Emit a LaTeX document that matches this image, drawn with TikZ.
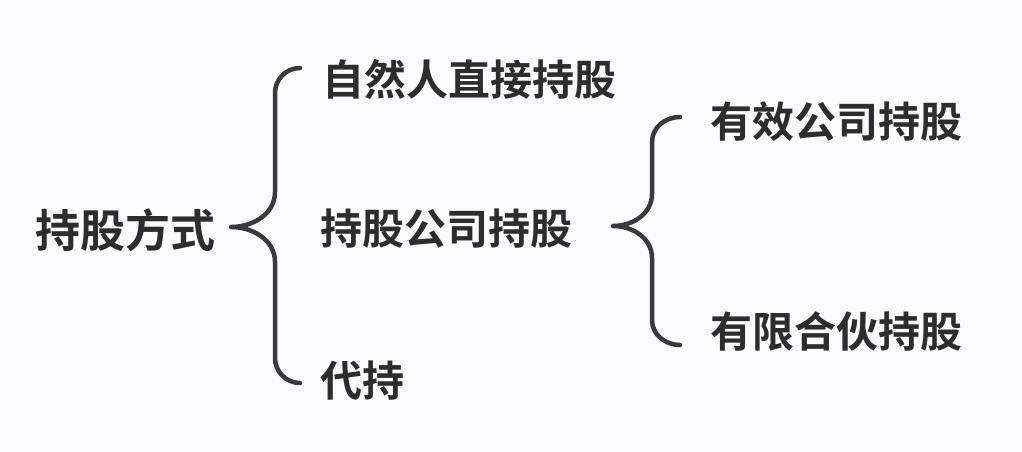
\documentclass[tikz,border=0pt]{standalone}
\usepackage{fontspec}
\newfontfamily\cjk{Noto Sans CJK SC Bold}
\definecolor{bg}{RGB}{251,250,252}
\definecolor{ink}{RGB}{45,45,45}
\definecolor{brc}{RGB}{58,58,60}
\begin{document}
\begin{tikzpicture}[x=1pt,y=-1pt,
  lbl/.style={anchor=west,inner sep=0pt,text=ink,font=\cjk\fontsize{42}{42}\selectfont},
  rootlbl/.style={lbl,font=\cjk\fontsize{45}{45}\selectfont},
  bracepath/.style={draw=brc,line width=4.5pt,line cap=round,line join=round}]
\fill[bg] (0,0) rectangle (1022,452);
\useasboundingbox (0,0) rectangle (1022,452);
\node[rootlbl] (root) at (35,230) {持股方式};
\node[lbl] (n1) at (322,79) {自然人直接持股};
\node[lbl] (n2) at (320,229) {持股公司持股};
\node[lbl] (n3) at (320,381) {代持};
\node[lbl] (m1) at (710,122) {有效公司持股};
\node[lbl] (m2) at (710,331) {有限合伙持股};
\coordinate (t1) at (231,227);
\coordinate (t2) at (613,226);
\draw[bracepath] (300,68) to[out=180,in=90] (275,93) -- (275,192)
  to[out=-90,in=0] (t1) to[out=0,in=90] (275,262) -- (275,358)
  to[out=-90,in=180] (300,383);
\draw[bracepath] (680,117) to[out=180,in=90] (652,142) -- (652,194)
  to[out=-90,in=0] (t2) to[out=0,in=90] (652,258) -- (652,320)
  to[out=-90,in=180] (680,345);
\end{tikzpicture}
\end{document}
